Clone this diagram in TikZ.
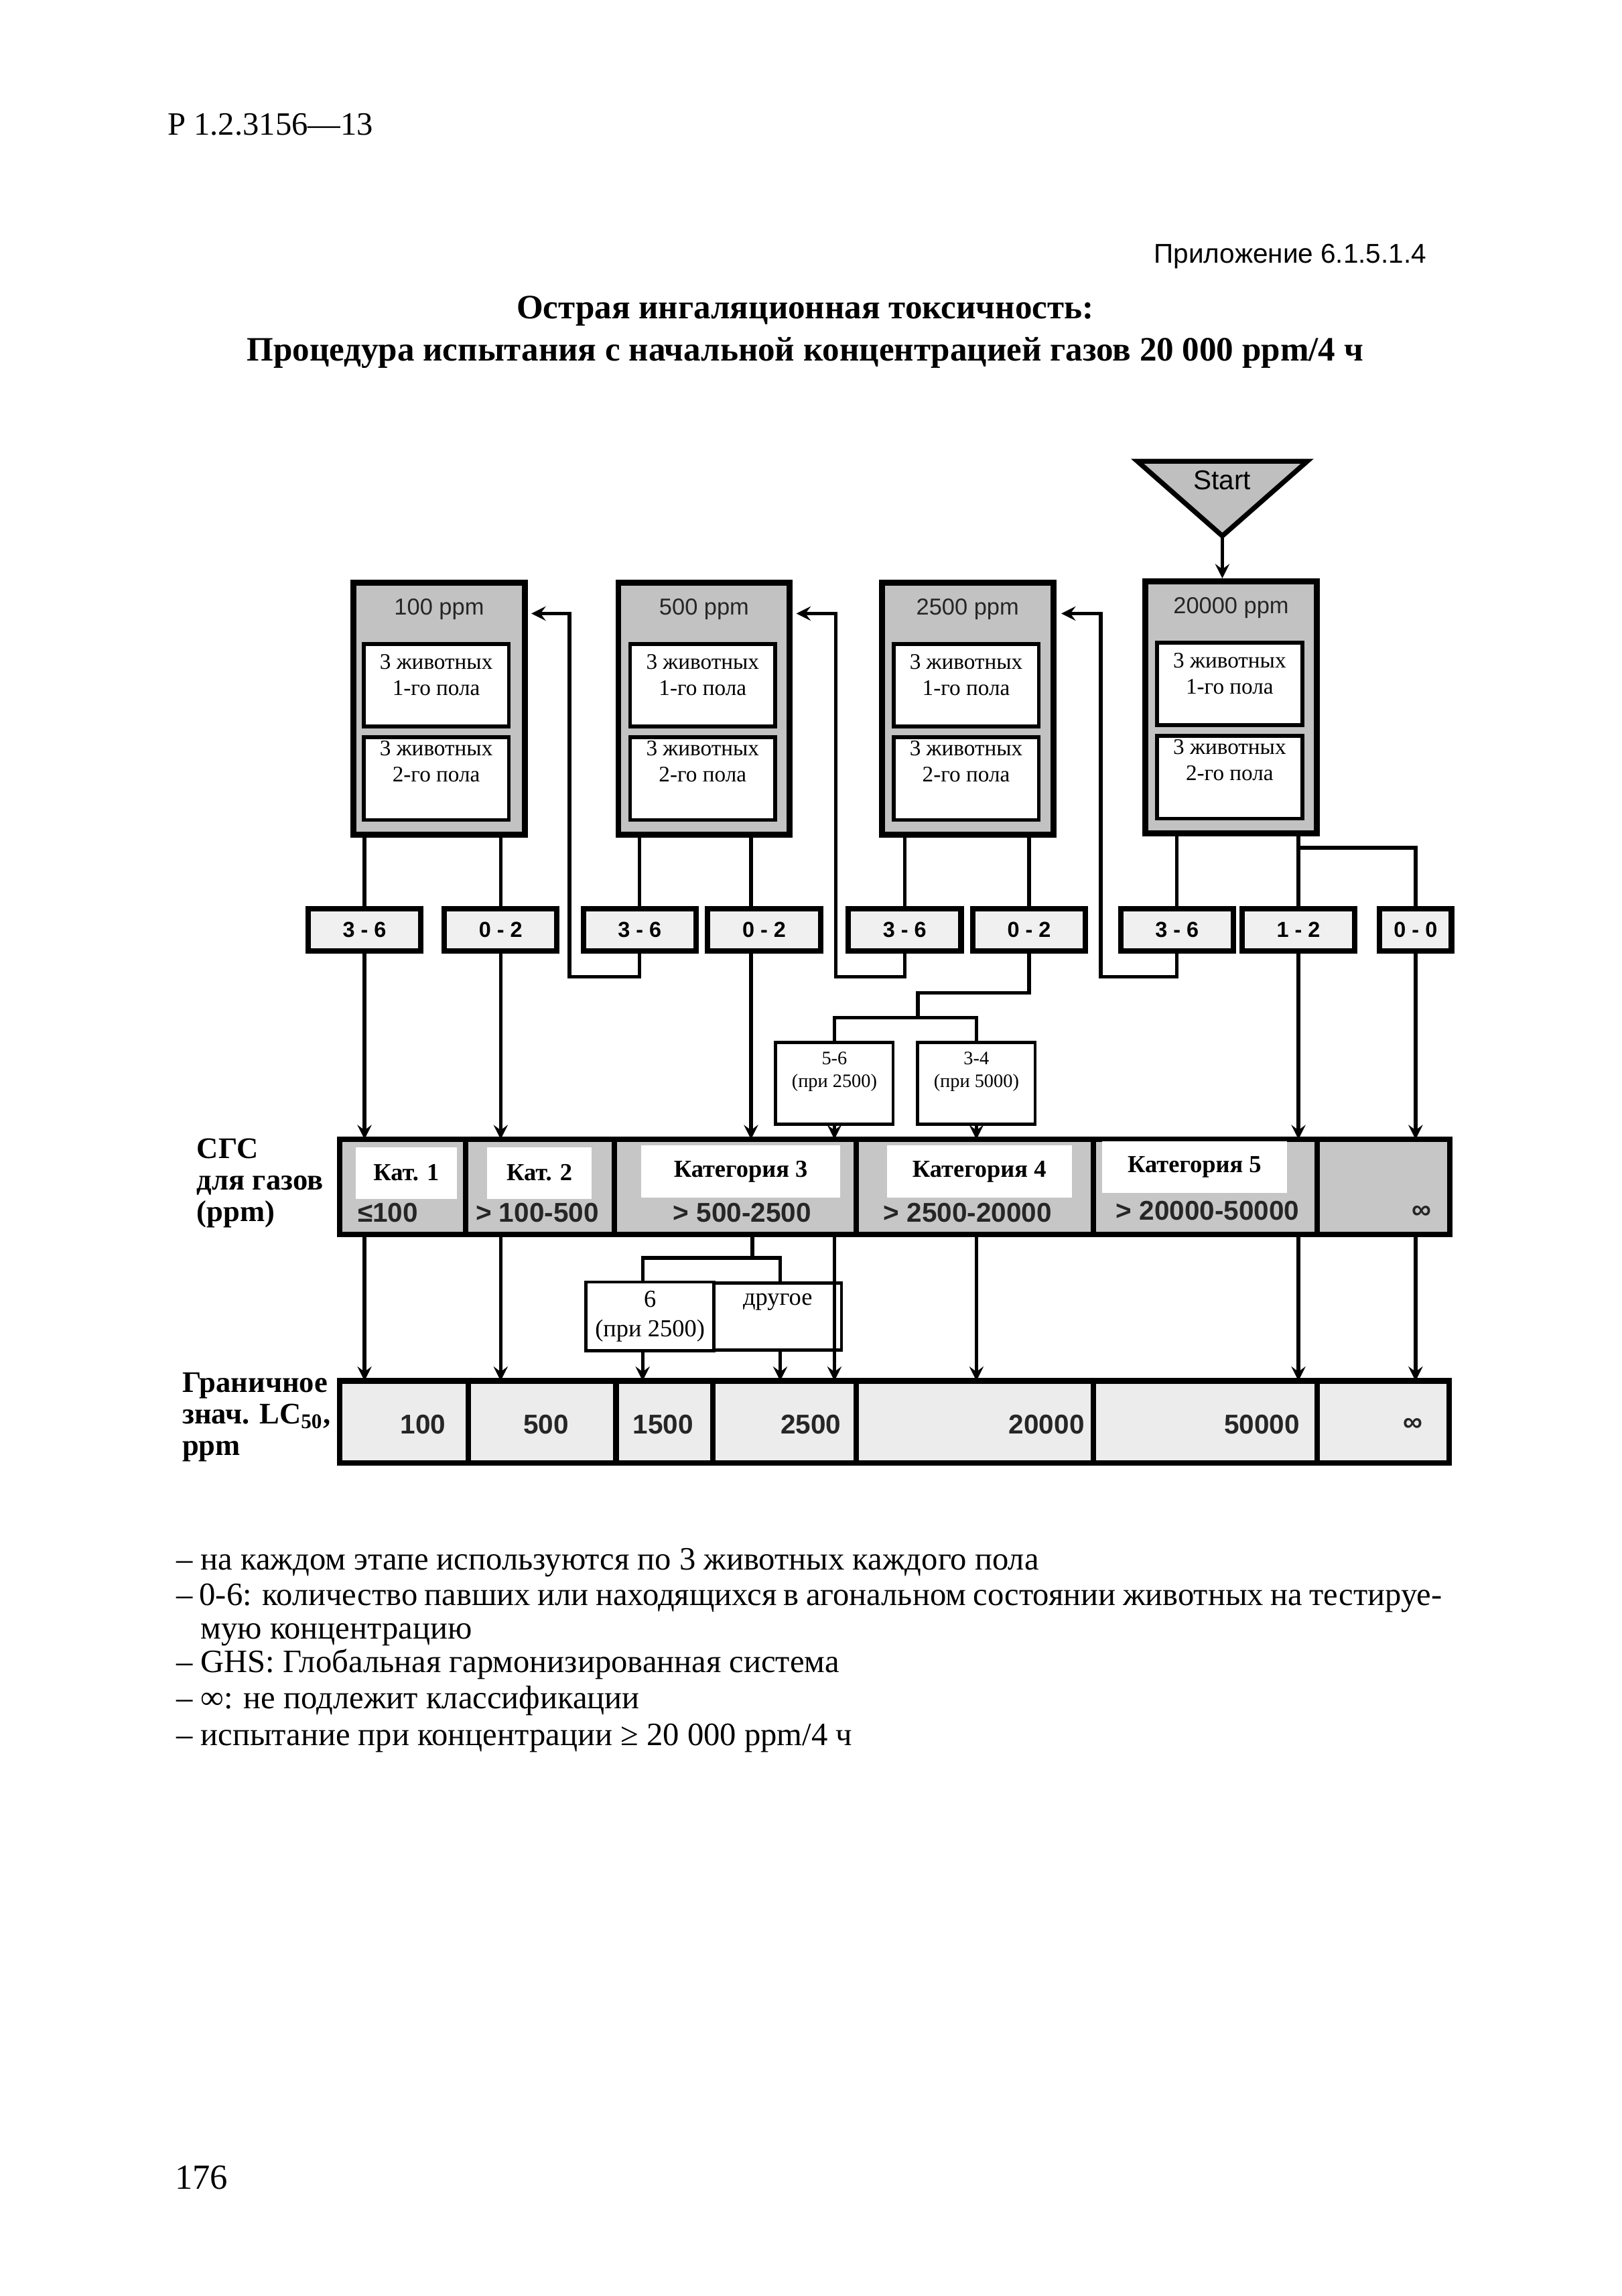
\documentclass[tikz,border=0pt]{standalone}
\usepackage{fontspec}
\setmainfont{Liberation Serif}
\setsansfont{Liberation Sans}
\usetikzlibrary{positioning}
\tikzstyle{colbox} = [rectangle, draw=black, line width=2.2pt, fill=gray!48, minimum width=22.2mm, minimum height=32.6mm]
\tikzstyle{animal} = [rectangle, draw=black, line width=1.4pt, fill=white, minimum width=18.8mm, minimum height=10.7mm]
\tikzstyle{animtext} = [align=center, inner sep=1pt, font=\fontsize{8.2}{9.6}\selectfont]
\tikzstyle{dose} = [font=\sffamily\fontsize{8.5}{10}\selectfont, text=black!85]
\tikzstyle{result} = [rectangle, draw=black, line width=2pt, fill=gray!12, minimum width=14.6mm, minimum height=5.5mm, font=\sffamily\bfseries\fontsize{8}{9}\selectfont]
\tikzstyle{splitbox} = [rectangle, draw=black, line width=1.2pt, fill=white, minimum width=15.2mm, minimum height=8.7mm, align=center, font=\fontsize{7}{8.4}\selectfont]
\tikzstyle{otherbox} = [rectangle, draw=black, line width=1.2pt, fill=white, minimum width=15.1mm, minimum height=8.7mm, align=center, outer sep=0pt, font=\fontsize{9}{10.8}\selectfont]
\tikzstyle{catcell} = [rectangle, draw=black, line width=2pt, fill=gray!45, minimum height=12.3mm, outer sep=0pt]
\tikzstyle{catname} = [rectangle, fill=white, minimum height=6.7mm, font=\bfseries\fontsize{9}{10}\selectfont]
\tikzstyle{rangetext} = [font=\sffamily\bfseries\fontsize{10}{11}\selectfont, text=black!85]
\tikzstyle{limcell} = [rectangle, draw=black, line width=2pt, fill=gray!15, minimum height=10.6mm, outer sep=0pt]
\tikzstyle{rowlabel} = [align=left, anchor=west, font=\bfseries\fontsize{11}{11.6}\selectfont]
\tikzstyle{note} = [anchor=base west, inner sep=0pt, font=\fontsize{12}{12.4}\selectfont]
\tikzstyle{link} = [line width=1.3pt]
\tikzstyle{arrow} = [line width=1.3pt,->,>=stealth]

\begin{document}
\begin{tikzpicture}[x=0.18953mm, y=-0.18953mm]
    \useasboundingbox (0,0) rectangle (1108,1568);

    % page head
    \node (doc) [anchor=west, font=\fontsize{12}{14}\selectfont] at (108,85) {Р 1.2.3156—13};
    \node (annex) [anchor=east, font=\sffamily\fontsize{10}{12}\selectfont] at (981,175) {Приложение 6.1.5.1.4};
    \node (title) [align=center, font=\bfseries\fontsize{12.6}{15.5}\selectfont] at (550,227) {Острая ингаляционная токсичность:\\Процедура испытания с начальной концентрацией газов 20 000 ppm/4 ч};

    % start
    \draw [line width=1.8pt, fill=gray!50] (777,315) -- (893,315) -- (835,366) -- cycle;
    \coordinate (startpt) at (835,366);
    \node (start) [font=\sffamily\fontsize{10}{12}\selectfont] at (835,328) {Start};

    % test columns
    \node (c1) [colbox] at (300,484) {};
    \node (c2) [colbox] at (481,484) {};
    \node (c3) [colbox] at (661,484) {};
    \node (c4) [colbox] at (841,483) {};
    \node (c1d) [dose] at (300,416) {100 ppm};
    \node (c2d) [dose] at (481,416) {500 ppm};
    \node (c3d) [dose] at (661,416) {2500 ppm};
    \node (c4d) [dose] at (841,415) {20000 ppm};
    \node (c1a) [animal] at (298,468) {};
    \node (c2a) [animal] at (480,468) {};
    \node (c3a) [animal] at (660,468) {};
    \node (c4a) [animal] at (840,467) {};
    \node (c1b) [animal, below=0.9mm of c1a] {};
    \node (c2b) [animal, below=0.9mm of c2a] {};
    \node (c3b) [animal, below=0.9mm of c3a] {};
    \node (c4b) [animal, below=0.9mm of c4a] {};
    \node (c1at) [animtext, below=1.2mm of c1a.north] {3 животных\\1-го пола};
    \node (c2at) [animtext, below=1.2mm of c2a.north] {3 животных\\1-го пола};
    \node (c3at) [animtext, below=1.2mm of c3a.north] {3 животных\\1-го пола};
    \node (c4at) [animtext, below=1.2mm of c4a.north] {3 животных\\1-го пола};
    \node (c1bt) [animtext, below=0.3mm of c1b.north] {3 животных\\2-го пола};
    \node (c2bt) [animtext, below=0.3mm of c2b.north] {3 животных\\2-го пола};
    \node (c3bt) [animtext, below=0.3mm of c3b.north] {3 животных\\2-го пола};
    \node (c4bt) [animtext, below=0.3mm of c4b.north] {3 животных\\2-го пола};
    \draw [arrow] (startpt) -- (startpt |- c4.north);

    % death counts
    \node (r1) [result] at (249,635) {3 - 6};
    \node (r2) [result] at (342,635) {0 - 2};
    \node (r3) [result] at (437,635) {3 - 6};
    \node (r4) [result] at (522,635) {0 - 2};
    \node (r5) [result] at (618,635) {3 - 6};
    \node (r6) [result] at (703,635) {0 - 2};
    \node (r7) [result] at (804,635) {3 - 6};
    \node (r8) [result] at (887,635) {1 - 2};
    \node (r9) [result, minimum width=9.3mm] at (967,635) {0 - 0};

    \draw [link] (c1.south -| r1) -- (r1);
    \draw [link] (c1.south -| r2) -- (r2);
    \draw [link] (c2.south -| r3) -- (r3);
    \draw [link] (c2.south -| 513,0) -- (513,0 |- r4.north);
    \draw [link] (c3.south -| r5) -- (r5);
    \draw [link] (c3.south -| r6) -- (r6);
    \draw [link] (c4.south -| r7) -- (r7);
    \draw [link] (c4.south -| r8) -- (r8);
    \coordinate (fork9) at (887,579);
    \draw [link] (fork9) -| (r9);

    % step down to the next lower concentration
    \coordinate (back1) at (389,667);
    \coordinate (back2) at (571,667);
    \coordinate (back3) at (752,667);
    \coordinate (ret1) at (363,419);
    \coordinate (ret2) at (544,419);
    \coordinate (ret3) at (725,419);
    \draw [arrow] (r3) |- (back1) |- (ret1);
    \draw [arrow] (r5) |- (back2) |- (ret2);
    \draw [arrow] (r7) |- (back3) |- (ret3);

    % retest at 2500 / 5000
    \node (q1) [splitbox] at (570,740) {5-6\\(при 2500)\\[2pt]};
    \node (q2) [splitbox] at (667,740) {3-4\\(при 5000)\\[2pt]};
    \coordinate (bend6) at (627,678);
    \coordinate (fork6) at (627,695);
    \draw [link] (r6) |- (bend6) -- (fork6);
    \draw [link] (q1) |- (fork6) -| (q2);

    % GHS categories
    \node (k1) [catcell, minimum width=16.3mm] at (275,810.5) {};
    \node (k2) [catcell, minimum width=19.3mm, right=0pt of k1] {};
    \node (k3) [catcell, minimum width=31.3mm, right=0pt of k2] {};
    \node (k4) [catcell, minimum width=30.7mm, right=0pt of k3] {};
    \node (k5) [catcell, minimum width=29.0mm, right=0pt of k4] {};
    \node (k6) [catcell, minimum width=17.1mm, right=0pt of k5] {};
    \node (k1n) [catname, minimum width=13.1mm] at (277.5,801) {Кат. 1};
    \node (k2n) [catname, minimum width=13.5mm] at (368.5,801) {Кат. 2};
    \node (k3n) [catname, minimum width=25.8mm] at (506,800) {Категория 3};
    \node (k4n) [catname, minimum width=23.9mm] at (669,800) {Категория 4};
    \node (k5n) [catname, minimum width=23.9mm] at (816,797) {Категория 5};
    \node (k1r) [rangetext] at (265,828) {≤100};
    \node (k2r) [rangetext] at (367,828) {> 100-500};
    \node (k3r) [rangetext] at (507,828) {> 500-2500};
    \node (k4r) [rangetext] at (661,828) {> 2500-20000};
    \node (k5r) [rangetext] at (825,827) {> 20000-50000};
    \node (k6r) [rangetext] at (971,828) {∞};
    \node (ghs) [rowlabel] at (128,808) {СГС\\для газов\\(ppm)};

    \draw [arrow] (r1) -- (r1 |- k1.north);
    \draw [arrow] (r2) -- (r2 |- k2.north);
    \draw [arrow] (513,0 |- r4.south) -- (513,0 |- k3.north);
    \draw [arrow] (q1) -- (q1 |- k3.north);
    \draw [arrow] (q2) -- (q2 |- k4.north);
    \draw [arrow] (r8) -- (r8 |- k5.north);
    \draw [arrow] (r9) -- (r9 |- k6.north);

    % retest at 2500 for category 3
    \node (s1) [otherbox] at (444,899) {6\\(при 2500)};
    \node (s2) [otherbox, right=0pt of s1] {другое\\\phantom{(при 2500)}};
    \coordinate (fork3) at (514,859);
    \coordinate (fork3a) at (439,859);
    \coordinate (fork3b) at (533,859);
    \draw [link] (k3.south -| fork3) -- (fork3);
    \draw [link] (fork3a |- s1.north) -- (fork3a) -- (fork3b) -- (fork3b |- s2.north);

    % LC50 limits
    \node (b1) [limcell, minimum width=16.7mm] at (276,971) {};
    \node (b2) [limcell, minimum width=19.1mm, right=0pt of b1] {};
    \node (b3) [limcell, minimum width=12.5mm, right=0pt of b2] {};
    \node (b4) [limcell, minimum width=18.6mm, right=0pt of b3] {};
    \node (b5) [limcell, minimum width=30.7mm, right=0pt of b4] {};
    \node (b6) [limcell, minimum width=29.0mm, right=0pt of b5] {};
    \node (b7) [limcell, minimum width=17.1mm, right=0pt of b6] {};
    \node (v1) [rangetext] at (289,973) {100};
    \node (v2) [rangetext] at (373,973) {500};
    \node (v3) [rangetext] at (453,973) {1500};
    \node (v4) [rangetext] at (554,973) {2500};
    \node (v5) [rangetext] at (715,973) {20000};
    \node (v6) [rangetext] at (862,973) {50000};
    \node (v7) [rangetext] at (965,973) {∞};
    \node (lim) [rowlabel] at (118,968) {Граничное\\знач. LC\textsubscript{50},\\ppm};

    \draw [arrow] (r1 |- k1.south) -- (r1 |- b1.north);
    \draw [arrow] (r2 |- k2.south) -- (r2 |- b2.north);
    \draw [arrow] (fork3a |- s1.south) -- (fork3a |- b3.north);
    \draw [arrow] (fork3b |- s2.south) -- (fork3b |- b4.north);
    \draw [arrow] (q1 |- k3.south) -- (q1 |- b4.north);
    \draw [arrow] (q2 |- k4.south) -- (q2 |- b5.north);
    \draw [arrow] (r8 |- k5.south) -- (r8 |- b6.north);
    \draw [arrow] (r9 |- k6.south) -- (r9 |- b7.north);

    % notes
    \node (n1) [note] at (120,1072) {– на каждом этапе используются по 3 животных каждого пола};
    \node (n2) [note, anchor=north west, text width=163.9mm, align=justify, font=\fontsize{12}{12.4}\selectfont] at (120,1081) {\hangindent=3.2mm\hangafter=1 – 0-6: количество павших или находящихся в агональном состоянии животных на тестируе-\linebreak мую концентрацию\par};
    \node (n3) [note] at (120,1142) {– GHS: Глобальная гармонизированная система};
    \node (n4) [note] at (120,1167) {– ∞: не подлежит классификации};
    \node (n5) [note] at (120,1192) {– испытание при концентрации ≥ 20 000 ppm/4 ч};
    \node (page) [anchor=west, font=\fontsize{13}{15}\selectfont] at (113,1487) {176};
\end{tikzpicture}
\end{document}
